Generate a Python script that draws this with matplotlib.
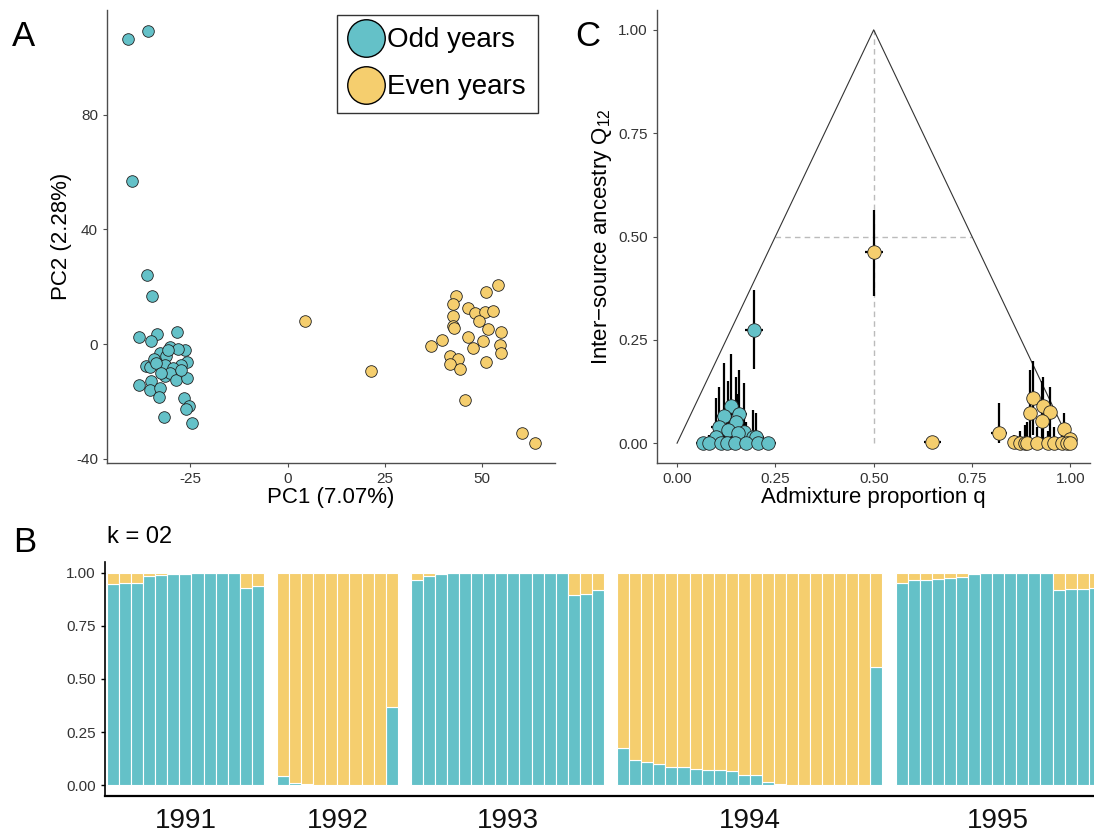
import numpy as np
import matplotlib
matplotlib.use("Agg")
import matplotlib.pyplot as plt
from matplotlib.lines import Line2D
import matplotlib.transforms as mtransforms

plt.rcParams['font.family'] = ['Liberation Sans', 'DejaVu Sans']
plt.rcParams['axes.unicode_minus'] = False
plt.rcParams['mathtext.fontset'] = 'custom'
plt.rcParams['mathtext.rm'] = 'Liberation Sans'

TEAL = '#64C1C8'
GOLD = '#F5CE6E'
AXC = '#4d4d4d'

# ---- panel A: PCA ----
odd_pc1 = [-41.0, -35.9, -40.1, -36.1, -34.8, -38.2, -33.5, -28.4, -35.0, -30.3,
           -26.4, -28.2, -32.9, -31.2, -25.8, -27.5, -36.3, -35.3, -34.4, -31.6,
           -29.4, -31.6, -30.3, -28.7, -25.8, -38.2, -35.0, -35.3, -32.7, -33.0,
           -26.7, -25.3, -26.2, -31.8, -24.6, -30.7, -33.7, -27.3, -32.5]
odd_pc2 = [106.4, 109.1, 56.9, 24.0, 16.8, 2.3, 3.5, 4.1, 0.9, -1.0,
           -2.2, -1.7, -3.1, -4.3, -6.4, -7.2, -7.8, -8.1, -5.4, -7.2,
           -8.3, -11.2, -10.1, -12.4, -11.8, -14.4, -13.0, -15.9, -15.3, -18.4,
           -19.0, -21.7, -22.6, -25.6, -27.7, -2.0, -6.6, -8.9, -10.1]
even_pc1 = [4.5, 21.4, 54.1, 51.1, 43.3, 42.4, 46.4, 48.2, 50.7, 52.8,
            42.4, 49.1, 42.4, 42.7, 51.4, 54.7, 46.4, 39.7, 50.2, 36.8,
            47.6, 54.5, 54.7, 41.8, 43.9, 41.6, 51.0, 44.4, 45.5, 60.3, 63.6]
even_pc2 = [7.9, -9.5, 20.6, 18.0, 16.6, 13.9, 12.5, 10.8, 11.1, 11.4,
            9.6, 7.9, 6.4, 5.6, 5.2, 4.1, 2.3, 1.3, 0.9, -0.8,
            -1.4, -0.2, -3.1, -4.1, -5.4, -7.0, -6.3, -8.6, -19.6, -31.0, -34.4]

# ---- panel C: triangle plot ----
odd_q = [0.196, 0.137, 0.120, 0.158, 0.151, 0.106, 0.130, 0.170, 0.155, 0.193,
         0.202, 0.100, 0.066, 0.081, 0.113, 0.126, 0.148, 0.176, 0.206, 0.232]
odd_Q = [0.274, 0.089, 0.066, 0.071, 0.052, 0.039, 0.031, 0.028, 0.024, 0.016,
         0.015, 0.016, 0.0, 0.0, 0.0, 0.0, 0.0, 0.0, 0.0, 0.0]
odd_Q_lo = [0.179, 0.0, 0.0, 0.0, 0.0, 0.0, 0.0, 0.0, 0.0, 0.0,
            0.0, 0.0, 0.0, 0.0, 0.0, 0.0, 0.0, 0.0, 0.0, 0.0]
odd_Q_hi = [0.371, 0.216, 0.194, 0.177, 0.160, 0.137, 0.150, 0.145, 0.120, 0.081,
            0.073, 0.110, 0.0, 0.02, 0.06, 0.09, 0.08, 0.05, 0.03, 0.0]
odd_q_err = [0.022, 0.02, 0.02, 0.02, 0.02, 0.02, 0.02, 0.02, 0.02, 0.02,
             0.02, 0.02, 0.018, 0.018, 0.02, 0.02, 0.02, 0.02, 0.02, 0.02]

even_q = [0.500, 0.649, 0.818, 0.857, 0.904, 0.897, 0.931, 0.948, 0.927, 0.984,
          0.999, 0.872, 0.885, 0.891, 0.914, 0.942, 0.959, 0.980, 0.991, 1.0]
even_Q = [0.462, 0.002, 0.024, 0.004, 0.110, 0.073, 0.090, 0.076, 0.054, 0.035,
          0.010, 0.0, 0.0, 0.0, 0.0, 0.0, 0.0, 0.0, 0.0, 0.0]
even_Q_lo = [0.357, 0.0, 0.0, 0.0, 0.02, 0.0, 0.0, 0.0, 0.0, 0.0,
             0.0, 0.0, 0.0, 0.0, 0.0, 0.0, 0.0, 0.0, 0.0, 0.0]
even_Q_hi = [0.563, 0.002, 0.098, 0.02, 0.198, 0.177, 0.161, 0.137, 0.150, 0.073,
             0.02, 0.03, 0.044, 0.05, 0.04, 0.03, 0.04, 0.03, 0.02, 0.01]
even_q_err = [0.023, 0.022, 0.02, 0.015, 0.015, 0.015, 0.015, 0.015, 0.015, 0.012,
              0.01, 0.015, 0.015, 0.015, 0.015, 0.015, 0.012, 0.01, 0.01, 0.008]

# ---- panel B: admixture barplot (teal fraction per individual) ----
years = ['1991', '1992', '1993', '1994', '1995']
q1991 = [0.945, 0.95, 0.95, 0.984, 0.987, 0.995, 0.995, 0.999, 1.0, 1.0, 1.0, 0.928, 0.937]
q1992 = [0.046, 0.011, 0.005, 0.002, 0.002, 0.001, 0.001, 0.001, 0.001, 0.367]
q1993 = [0.965, 0.984, 0.992, 1.0, 1.0, 1.0, 1.0, 1.0, 1.0, 1.0, 1.0, 1.0, 1.0,
         0.895, 0.901, 0.917]
q1994 = [0.176, 0.119, 0.111, 0.100, 0.088, 0.085, 0.077, 0.074, 0.071, 0.069, 0.049,
         0.049, 0.014, 0.006, 0.002, 0.001, 0.001, 0.001, 0.001, 0.001, 0.001, 0.557]
q1995 = [0.950, 0.965, 0.965, 0.972, 0.976, 0.980, 0.994, 0.997, 0.997, 0.997, 0.997,
         1.0, 1.0, 0.917, 0.922, 0.923, 0.926]
year_q = [q1991, q1992, q1993, q1994, q1995]

fig = plt.figure(figsize=(10.94, 8.35), dpi=100)


def style_axes(ax, col=AXC):
    for s in ['top', 'right']:
        ax.spines[s].set_visible(False)
    for s in ['left', 'bottom']:
        ax.spines[s].set_color(col)
        ax.spines[s].set_linewidth(1.0)
    ax.tick_params(colors=col, labelcolor='#333333', labelsize=11, length=3, width=0.8)


# A
axA = fig.add_axes([107 / 1094, 1 - 463 / 835, 448 / 1094, 453 / 835])
axA.scatter(odd_pc1, odd_pc2, s=70, c=TEAL, edgecolors='#222222', linewidths=0.6, zorder=3)
axA.scatter(even_pc1, even_pc2, s=70, c=GOLD, edgecolors='#222222', linewidths=0.6, zorder=3)
axA.set_xlim(-46.4, 68.7)
axA.set_ylim(-41.5, 116.5)
axA.set_xticks([-25, 0, 25, 50])
axA.set_yticks([-40, 0, 40, 80])
style_axes(axA)
axA.set_xlabel('PC1 (7.07%)', fontsize=16, labelpad=1)
axA.set_ylabel('PC2 (2.28%)', fontsize=16, labelpad=3)
handles = [Line2D([], [], marker='o', ls='', markersize=27, markerfacecolor=TEAL,
                  markeredgecolor='black', markeredgewidth=1.0, label='Odd years'),
           Line2D([], [], marker='o', ls='', markersize=27, markerfacecolor=GOLD,
                  markeredgecolor='black', markeredgewidth=1.0, label='Even years')]
leg = axA.legend(handles=handles, loc='upper right', bbox_to_anchor=(0.962, 0.989),
                 borderaxespad=0, fontsize=20, frameon=True, fancybox=False,
                 edgecolor='black', handletextpad=0.15, labelspacing=0.75,
                 borderpad=0.45, handlelength=1.2)
leg.get_frame().set_linewidth(1.0)

# C
axC = fig.add_axes([657 / 1094, 1 - 463 / 835, 433 / 1094, 453 / 835])
axC.plot([0, 0.5, 1], [0, 1, 0], color='#333333', lw=0.8, zorder=1)
axC.plot([0.5, 0.5], [0, 1], color='#bbbbbb', lw=1.0, ls=(0, (4, 3)), zorder=0)
axC.plot([0.25, 0.75], [0.5, 0.5], color='#bbbbbb', lw=1.0, ls=(0, (4, 3)), zorder=0)
for q, Q, lo, hi, qe, col in [(odd_q, odd_Q, odd_Q_lo, odd_Q_hi, odd_q_err, TEAL),
                              (even_q, even_Q, even_Q_lo, even_Q_hi, even_q_err, GOLD)]:
    q = np.array(q)
    Q = np.array(Q)
    axC.vlines(q, lo, hi, color='black', lw=1.6, zorder=2)
    axC.hlines(Q, q - np.array(qe), q + np.array(qe), color='black', lw=1.6, zorder=2)
    axC.scatter(q, Q, s=95, c=col, edgecolors='#222222', linewidths=0.6, zorder=3)
axC.set_xlim(-0.051, 1.05)
axC.set_ylim(-0.048, 1.048)
ticks = [0, 0.25, 0.5, 0.75, 1.0]
axC.set_xticks(ticks)
axC.set_xticklabels(['%.2f' % t for t in ticks])
axC.set_yticks(ticks)
axC.set_yticklabels(['%.2f' % t for t in ticks])
style_axes(axC)
axC.set_xlabel('Admixture proportion q', fontsize=16, labelpad=1)
axC.set_ylabel('Inter\u2212source ancestry Q$_{\\mathregular{12}}$', fontsize=16, labelpad=3)

# B
axB = fig.add_axes([105 / 1094, 1 - 796 / 835, 989 / 1094, 234 / 835])
gap = 1.1
start = 0.0
centers = []
for vals in year_q:
    x = start + np.arange(len(vals)) + 0.5
    v = np.array(vals)
    axB.bar(x, v, width=1.0, color=TEAL, edgecolor='white', linewidth=0.8)
    axB.bar(x, 1 - v, bottom=v, width=1.0, color=GOLD, edgecolor='white', linewidth=0.8)
    centers.append(start + len(vals) / 2)
    start += len(vals) + gap
axB.set_xlim(-0.17, 81.84)
axB.set_ylim(-0.05, 1.05)
axB.set_yticks(ticks)
axB.set_yticklabels(['%.2f' % t for t in ticks])
axB.set_xticks([])
for s in ['top', 'right']:
    axB.spines[s].set_visible(False)
axB.spines['left'].set_color('black')
axB.spines['left'].set_linewidth(1.2)
axB.spines['bottom'].set_color('black')
axB.spines['bottom'].set_linewidth(1.6)
axB.tick_params(axis='y', colors='black', labelcolor='#333333', labelsize=11, length=3, width=1.0)
trans = mtransforms.blended_transform_factory(axB.transData, axB.transAxes)
for c, y in zip(centers, years):
    axB.text(c, -0.105, y, transform=trans, ha='center', va='center', fontsize=20, color='#111111')

fig.text(107 / 1094, 1 - 537 / 835, 'k = 02', fontsize=17, ha='left', va='center')
fig.text(24 / 1094, 1 - 36 / 835, 'A', fontsize=25, ha='center', va='center')
fig.text(25 / 1094, 1 - 543 / 835, 'B', fontsize=25, ha='center', va='center')
fig.text(588 / 1094, 1 - 37 / 835, 'C', fontsize=25, ha='center', va='center')

fig.savefig('out.png', dpi=100)
